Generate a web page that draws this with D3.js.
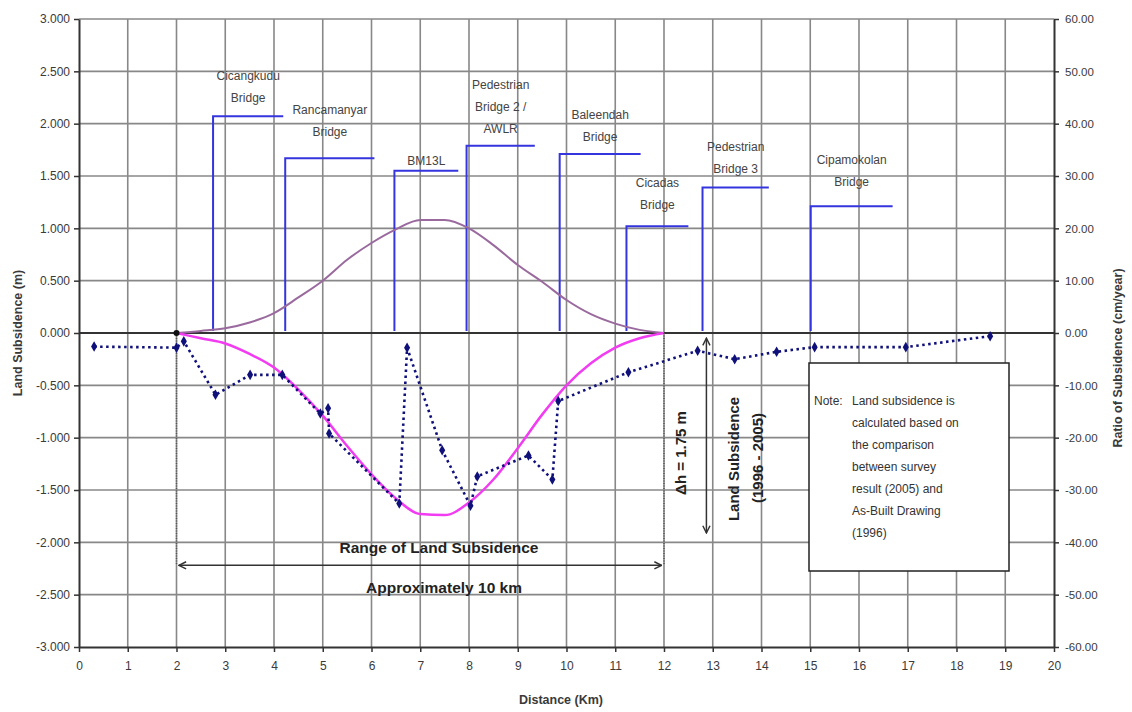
<!DOCTYPE html>
<html>
<head>
<meta charset="utf-8">
<script src="https://cdn.jsdelivr.net/npm/d3@7"></script>
<style>
  body { margin: 0; background: #fff; }
  svg text { font-family: "Liberation Sans", Arial, sans-serif; }
</style>
</head>
<body>
<div id="chart"></div>
<script>
// measured land subsidence (m) along the river, distance in km
var measKm  = [0.31, 2.0, 2.15, 2.8, 3.51, 4.17, 4.95, 5.11, 5.13, 6.57, 6.73, 7.45, 8.03, 8.17, 9.22, 9.71, 9.83, 11.27, 12.69, 13.45, 14.31, 15.09, 16.96, 18.69];
var measSub = [-0.13, -0.14, -0.08, -0.59, -0.40, -0.40, -0.77, -0.72, -0.96, -1.63, -0.14, -1.12, -1.65, -1.37, -1.17, -1.40, -0.65, -0.375, -0.17, -0.25, -0.18, -0.135, -0.135, -0.03];

// smoothed subsidence (m) and ratio of subsidence (cm/year)
var curveKm    = [2, 2.5, 3, 3.5, 4, 4.5, 5, 5.5, 6, 6.5, 7, 7.5, 8, 8.5, 9, 9.5, 10, 10.5, 11, 11.5, 12];
var curveSub   = [0, -0.05, -0.1, -0.2, -0.33, -0.54, -0.79, -1.08, -1.35, -1.58, -1.73, -1.74, -1.62, -1.4, -1.1, -0.78, -0.5, -0.29, -0.14, -0.05, 0];
var curveRatio = [0, 0.4, 0.9, 2.0, 3.8, 6.8, 10.0, 14.0, 17.2, 19.8, 21.6, 21.6, 20.0, 16.8, 13.0, 9.8, 6.3, 3.6, 1.8, 0.6, 0];

// bridges / benchmarks: location, leader height (m), leader end (km), label
var bridgeNames = [["Cicangkudu", "Bridge"], ["Rancamanyar", "Bridge"], ["BM13L"], ["Pedestrian", "Bridge 2 /", "AWLR"],
                   ["Baleendah", "Bridge"], ["Cicadas", "Bridge"], ["Pedestrian", "Bridge 3"], ["Cipamokolan", "Bridge"]];
var bridgeKm    = [2.75, 4.23, 6.47, 7.95, 9.86, 11.23, 12.79, 15.01];
var bridgeTop   = [2.07, 1.67, 1.55, 1.79, 1.71, 1.02, 1.39, 1.21];
var bridgeEnd   = [4.19, 6.06, 7.78, 9.35, 11.52, 12.5, 14.15, 16.69];
var bridgeLabel = [2.25, 1.92, 1.64, 1.95, 1.87, 1.22, 1.57, 1.44];

var leftTicks  = d3.range(-3, 3.001, 0.5);
var rightTicks = d3.range(-60, 60.001, 10);
var xTicks     = d3.range(0, 21, 1);

var noteLines = ["Land subsidence is", "calculated based on", "the comparison", "between survey",
                 "result (2005) and", "As-Built Drawing", "(1996)"];

(function() {

    var width = 1132, height = 712;
    var mLeft = 79, mRight = 1054, mTop = 19, mBottom = 647;

    var svg = d3.select("#chart").append("svg")
        .attr("width", width)
        .attr("height", height);

    var x = d3.scaleLinear().domain([0, 20]).range([mLeft, mRight]);
    var y = d3.scaleLinear().domain([-3, 3]).range([mBottom, mTop]);
    var yR = d3.scaleLinear().domain([-60, 60]).range([mBottom, mTop]);

    // plain hyphen minus like the spreadsheet labels
    var fmt3 = d => d3.format(".3f")(d).replace("\u2212", "-");
    var fmt2 = d => d3.format(".2f")(d).replace("\u2212", "-");

    // grid
    var grid = svg.append("g");
    grid.selectAll(".vg").data(xTicks.slice(1, 20)).enter().append("line")
        .attr("x1", d => x(d)).attr("x2", d => x(d))
        .attr("y1", mTop).attr("y2", mBottom)
        .attr("stroke", "#888").attr("stroke-width", 1.6);
    grid.selectAll(".hg").data(leftTicks.filter(d => d > -3)).enter().append("line")
        .attr("x1", mLeft).attr("x2", mRight)
        .attr("y1", d => y(d)).attr("y2", d => y(d))
        .attr("stroke", "#888").attr("stroke-width", 1.6);

    // zero line
    svg.append("line")
        .attr("x1", mLeft).attr("x2", mRight)
        .attr("y1", y(0)).attr("y2", y(0))
        .attr("stroke", "#333").attr("stroke-width", 2.2);

    // axes
    function styleAxis(g) {
        g.select(".domain").attr("stroke", "#333").attr("stroke-width", 2);
        g.selectAll(".tick line").attr("stroke", "#333").attr("stroke-width", 1.5);
        g.selectAll(".tick text").attr("fill", "#3a3a3a").style("font-size", "12px");
    }
    svg.append("g").attr("transform", "translate(" + mLeft + ",0)")
        .call(d3.axisLeft(y).tickValues(leftTicks).tickFormat(fmt3).tickSize(5).tickPadding(4).tickSizeOuter(0))
        .call(styleAxis);
    svg.append("g").attr("transform", "translate(" + mRight + ",0)")
        .call(d3.axisRight(yR).tickValues(rightTicks).tickFormat(fmt2).tickSize(5).tickPadding(6).tickSizeOuter(0))
        .call(styleAxis)
        .call(g => g.selectAll(".tick text").style("font-size", "11.5px"));
    svg.append("g").attr("transform", "translate(0," + mBottom + ")")
        .call(d3.axisBottom(x).tickValues(xTicks).tickSize(5).tickPadding(9).tickSizeOuter(0))
        .call(styleAxis);

    // axis titles
    svg.append("text").attr("transform", "translate(22,333) rotate(-90)")
        .attr("text-anchor", "middle").attr("fill", "#3a3a3a")
        .style("font-size", "12.5px").style("font-weight", "bold")
        .text("Land Subsidence (m)");
    svg.append("text").attr("transform", "translate(1122,358) rotate(-90)")
        .attr("text-anchor", "middle").attr("fill", "#3a3a3a")
        .style("font-size", "12.5px").style("font-weight", "bold")
        .text("Ratio of Subsidence (cm/year)");
    svg.append("text").attr("x", 561).attr("y", 704)
        .attr("text-anchor", "middle").attr("fill", "#3a3a3a")
        .style("font-size", "12.5px").style("font-weight", "bold")
        .text("Distance (Km)");

    // bridge leaders
    var bridges = bridgeKm.map((k, i) => ({ km: k, top: bridgeTop[i], end: bridgeEnd[i], name: bridgeNames[i], ly: bridgeLabel[i] }));
    var bg = svg.append("g");
    bg.selectAll("path").data(bridges).enter().append("path")
        .attr("d", d => "M" + x(d.km) + "," + y(0.02) + "V" + y(d.top) + "H" + x(d.end))
        .attr("fill", "none").attr("stroke", "#3535e0").attr("stroke-width", 2);
    bg.selectAll("text").data(bridges).enter().append("text")
        .attr("y", d => y(d.ly) + 4)
        .attr("text-anchor", "middle").attr("fill", "#444")
        .style("font-size", "12px")
        .each(function(d) {
            var t = d3.select(this), n = d.name.length;
            d.name.forEach((s, i) => {
                t.append("tspan").attr("x", (x(d.km) + x(d.end)) / 2)
                    .attr("dy", i === 0 ? -(n - 1) * 22 : 22).text(s);
            });
        });

    // ratio curve (purple, right axis)
    var ratioLine = d3.line().x(d => x(d[0])).y(d => yR(d[1])).curve(d3.curveMonotoneX);
    svg.append("path").datum(curveKm.map((k, i) => [k, curveRatio[i]]))
        .attr("d", ratioLine).attr("fill", "none")
        .attr("stroke", "#9a6a9e").attr("stroke-width", 2);

    // smoothed subsidence (magenta)
    var subCurve = d3.line().x(d => x(d[0])).y(d => y(d[1])).curve(d3.curveMonotoneX);
    svg.append("path").datum(curveKm.map((k, i) => [k, curveSub[i]]))
        .attr("d", subCurve).attr("fill", "none")
        .attr("stroke", "#f23cf2").attr("stroke-width", 2.5);

    // range annotation
    var ann = svg.append("g");
    [2, 12].forEach(k => {
        ann.append("line").attr("x1", x(k)).attr("x2", x(k))
            .attr("y1", y(0)).attr("y2", y(-2.22))
            .attr("stroke", "#555").attr("stroke-width", 1.5).attr("stroke-dasharray", "1,1.5");
    });
    ann.append("circle").attr("cx", x(2)).attr("cy", y(0)).attr("r", 3).attr("fill", "#111");

    var defs = svg.append("defs");
    defs.append("marker").attr("id", "arr").attr("viewBox", "0 0 10 10")
        .attr("refX", 9).attr("refY", 5).attr("markerWidth", 9).attr("markerHeight", 9)
        .attr("markerUnits", "userSpaceOnUse")
        .attr("orient", "auto-start-reverse")
        .append("path").attr("d", "M1,1L9,5L1,9").attr("fill", "none").attr("stroke", "#333").attr("stroke-width", 1.6);

    ann.append("line").attr("x1", x(2.05)).attr("x2", x(11.95))
        .attr("y1", y(-2.22)).attr("y2", y(-2.22))
        .attr("stroke", "#333").attr("stroke-width", 1.5)
        .attr("marker-start", "url(#arr)").attr("marker-end", "url(#arr)");
    ann.append("text").attr("x", 439).attr("y", 553).attr("text-anchor", "middle")
        .attr("fill", "#222").style("font-size", "15.5px").style("font-weight", "bold")
        .text("Range of Land Subsidence");
    ann.append("text").attr("x", 444).attr("y", 593).attr("text-anchor", "middle")
        .attr("fill", "#222").style("font-size", "15.5px").style("font-weight", "bold")
        .text("Approximately 10 km");

    // delta h arrow
    ann.append("line").attr("x1", x(12.87)).attr("x2", x(12.87))
        .attr("y1", y(-0.05)).attr("y2", y(-1.91))
        .attr("stroke", "#333").attr("stroke-width", 1.5)
        .attr("marker-start", "url(#arr)").attr("marker-end", "url(#arr)");
    ann.append("text").attr("transform", "translate(686,453) rotate(-90)")
        .attr("text-anchor", "middle").attr("fill", "#222")
        .style("font-size", "15px").style("font-weight", "bold")
        .text("\u0394h = 1.75 m");
    ann.append("text").attr("transform", "translate(739,459) rotate(-90)")
        .attr("text-anchor", "middle").attr("fill", "#222")
        .style("font-size", "15px").style("font-weight", "bold")
        .text("Land Subsidence");
    ann.append("text").attr("transform", "translate(763,458) rotate(-90)")
        .attr("text-anchor", "middle").attr("fill", "#222")
        .style("font-size", "15px").style("font-weight", "bold")
        .text("(1996 - 2005)");

    // measured points (navy dotted with diamonds)
    var measLine = d3.line().x(d => x(d[0])).y(d => y(d[1]));
    var meas = measKm.map((k, i) => [k, measSub[i]]);
    svg.append("path").datum(meas)
        .attr("d", measLine).attr("fill", "none")
        .attr("stroke", "#10107a").attr("stroke-width", 2.6).attr("stroke-dasharray", "2.5,3.5");
    svg.append("g").selectAll("path").data(meas).enter().append("path")
        .attr("d", d3.symbol().type(d3.symbolDiamond).size(32))
        .attr("transform", d => "translate(" + x(d[0]) + "," + y(d[1]) + ")")
        .attr("fill", "#10107a");

    // note box
    var note = svg.append("g");
    note.append("rect").attr("x", 809).attr("y", 363).attr("width", 200).attr("height", 208)
        .attr("fill", "#fff").attr("stroke", "#222").attr("stroke-width", 1.5);
    note.append("text").attr("x", 814).attr("y", 405).attr("fill", "#333")
        .style("font-size", "12px").text("Note:");
    note.selectAll(".nl").data(noteLines).enter().append("text")
        .attr("x", 852).attr("y", (d, i) => 405 + i * 22)
        .attr("fill", "#333").style("font-size", "12px")
        .text(d => d);

})();
</script>
</body>
</html>
